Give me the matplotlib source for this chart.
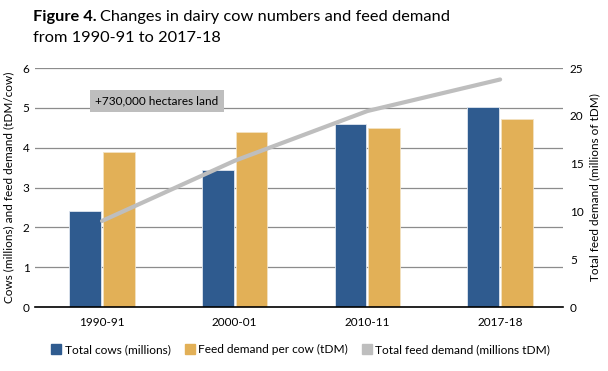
import matplotlib
matplotlib.use("Agg")
import matplotlib.pyplot as plt
from matplotlib.lines import Line2D
import numpy as np

plt.rcParams['font.family'] = ['Lato', 'DejaVu Sans']

# data
years = ['1990-91', '2000-01', '2010-11', '2017-18']
total_cows = [2.4, 3.45, 4.6, 5.03]          # millions
feed_per_cow = [3.88, 4.4, 4.5, 4.72]        # tDM/cow
total_feed = [9.0, 15.3, 20.5, 23.8]         # millions tDM

blue = '#2F5B8F'
yellow = '#E2B057'
grey = '#BEBEBE'

fig = plt.figure(figsize=(6.08, 3.71), dpi=100)
ax = fig.add_axes([0.0576, 0.1725, 0.8684, 0.6442])
ax2 = ax.twinx()

x = np.arange(len(years))
w = 0.24
ax.bar(x - 0.127, total_cows, w, color=blue, edgecolor='#dfe6ef', linewidth=0.6, zorder=3)
ax.bar(x + 0.127, feed_per_cow, w, color=yellow, edgecolor='#f3e2c2', linewidth=0.6, zorder=3)

ax.set_xlim(-0.505, 3.474)
ax.set_ylim(0, 6)
ax.set_yticks(range(0, 7))
ax.set_xticks(x)
ax.set_xticklabels(years)
ax.grid(axis='y', color='#8c8c8c', linewidth=0.9, zorder=0)
ax.set_axisbelow(True)
for s in ['top', 'right', 'left']:
    ax.spines[s].set_visible(False)
ax.spines['bottom'].set_color('black')
ax.spines['bottom'].set_linewidth(1.2)
ax.spines['bottom'].set_zorder(5)
ax.tick_params(axis='both', length=0, labelsize=8.5, pad=4)
ax.tick_params(axis='x', pad=7)
ax.set_ylabel('Cows (millions) and feed demand (tDM/cow)', fontsize=8.5, labelpad=6)

ax2.plot(x, total_feed, color=grey, linewidth=3, solid_capstyle='round', zorder=4)
ax2.set_ylim(0, 25)
ax2.set_yticks(range(0, 26, 5))
for s in ['top', 'right', 'left', 'bottom']:
    ax2.spines[s].set_visible(False)
ax2.tick_params(axis='y', length=0, labelsize=8.5, pad=5)
ax2.set_ylabel('Total feed demand (millions of tDM)', fontsize=8.5, labelpad=4)

ax.text(0.415, 5.17, '+730,000 hectares land', ha='center', va='center', fontsize=8.5,
        bbox=dict(boxstyle='square,pad=0.45', facecolor=grey, edgecolor='none'), zorder=6)

# title: bold prefix followed by regular text
t1 = fig.text(0.054, 0.955, 'Figure 4.', fontsize=11.8, fontweight='bold', va='center')
fig.canvas.draw()
bb = t1.get_window_extent(renderer=fig.canvas.get_renderer())
fig.text(bb.x1 / fig.bbox.width + 0.006, 0.955, 'Changes in dairy cow numbers and feed demand',
         fontsize=11.8, va='center')
fig.text(0.054, 0.898, 'from 1990-91 to 2017-18', fontsize=11.8, va='center')

handles = [
    Line2D([], [], marker='s', linestyle='none', markersize=7, color=blue),
    Line2D([], [], marker='s', linestyle='none', markersize=7, color=yellow),
    Line2D([], [], marker='s', linestyle='none', markersize=7, color=grey),
]
labels = ['Total cows (millions)', 'Feed demand per cow (tDM)', 'Total feed demand (millions tDM)']
fig.legend(handles, labels, loc='center', bbox_to_anchor=(0.495, 0.057), ncol=3, frameon=False,
           fontsize=8.6, handletextpad=0.3, columnspacing=1.2, handlelength=0.8)

fig.savefig('out.png', dpi=100)
